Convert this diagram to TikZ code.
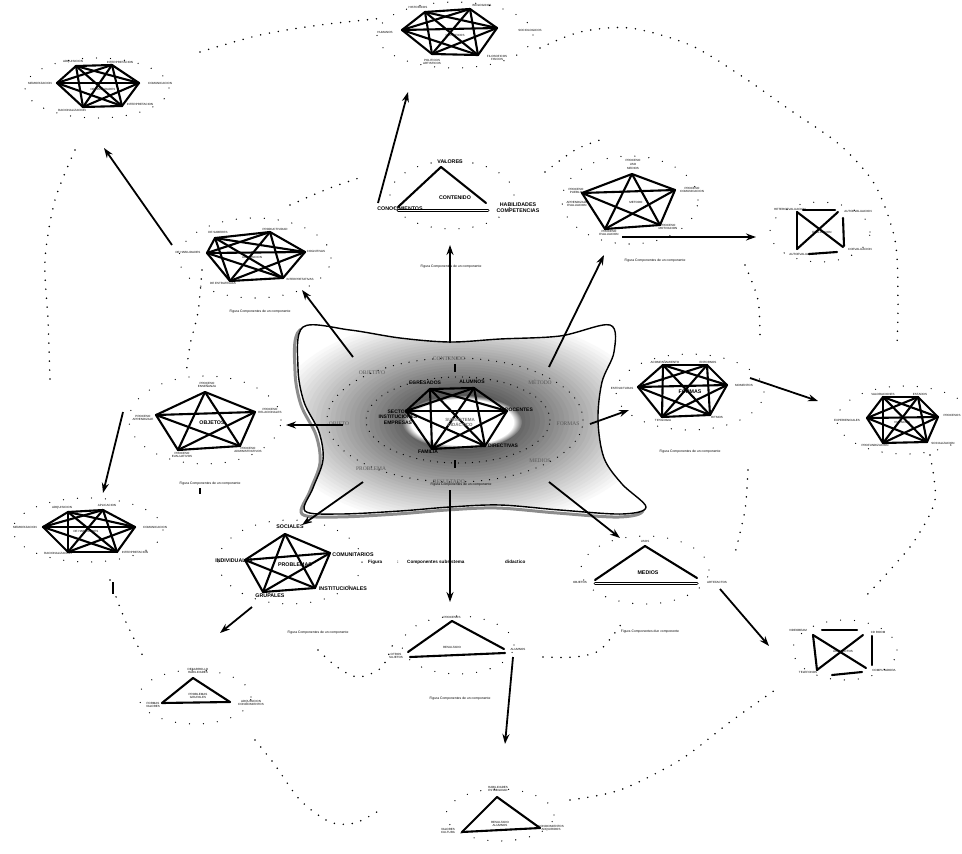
\documentclass[tikz,border=0pt]{standalone}
\usepackage{fontspec}
\setmainfont{Liberation Sans}
\newfontfamily\serifz{Liberation Serif}
\usetikzlibrary{arrows.meta,fadings}
\newcommand{\completegraph}[1]{%
  \foreach \u [count=\i] in {#1}{%
    \foreach \v [count=\j] in {#1}{%
      \ifnum\j>\i \draw[edge] (\u) -- (\v);\fi}}}
\begin{document}
\begin{tikzpicture}[x=1pt,y=-1pt,
  edge/.style={line width=2.1pt,line cap=round},
  arr/.style={line width=1.8pt,-{Stealth[length=10pt,width=7pt]}},
  tl/.style={font=\fontsize{3}{3.5}\selectfont,inner sep=0pt,align=center},
  bl/.style={font=\bfseries\fontsize{5.3}{6}\selectfont,inner sep=0pt,align=center},
  rl/.style={font=\serifz\fontsize{5.5}{6}\selectfont,text=black!65,inner sep=0pt},
  figcap/.style={font=\fontsize{3.4}{4}\selectfont,inner sep=0pt},
  maincap/.style={font=\bfseries\fontsize{4.6}{5}\selectfont,inner sep=0pt,anchor=west},
  dots/.style={line width=1.7pt,dash pattern=on 0pt off 9pt,line cap=round},
  sdots/.style={line width=1.3pt,dash pattern=on 0pt off 14pt,line cap=round}]
\useasboundingbox (0,0) rectangle (962,854);
\def\blob{plot[smooth cycle,tension=0.55] coordinates {(303,327) (350,330) (400,338) (450,342) (500,339) (560,336) (610,325) (614,352) (602,382) (598,420) (604,458) (622,484) (646,507) (622,514) (560,510) (500,505) (450,507) (400,511) (340,514) (305,511) (313,488) (323,460) (319,432) (304,402) (298,368)}}
% ---------- blob ----------
\draw[line width=3pt,black!45,shift={(-3,3)}] \blob;
\begin{scope}
  \clip \blob;
  \fill[white] (290,320) rectangle (660,520);
  \foreach \k in {0,...,39}{
    \pgfmathsetmacro{\ff}{1-\k/40}
    \pgfmathsetmacro{\gg}{88*(1-\ff)}
    \fill[black!\gg] (462,421) ellipse [x radius=\ff*195pt,y radius=\ff*108pt];
  }
  \fill[white,path fading=circle with fuzzy edge 15 percent] (462,422) ellipse [x radius=60pt,y radius=27pt];
\end{scope}
\draw[line width=1.4pt] \blob;
\draw[sdots,dash pattern=on 0pt off 8pt] (455,420) ellipse [x radius=128pt,y radius=62pt];
\draw[sdots,dash pattern=on 0pt off 7pt] (458,420) ellipse [x radius=92pt,y radius=43pt];
% ring labels
\node[rl] (rCont) at (449,359) {CONTENIDO};
\node[rl] (rObjv) at (372,373) {OBJETIVO};
\node[rl] (rMet) at (540,382) {MÉTODO};
\node[rl] (rObj) at (339,424) {OBJETO};
\node[rl] (rForm) at (568,424) {FORMAS};
\node[rl] (rProb) at (371,469) {PROBLEMA};
\node[rl] (rMed) at (540,461) {MEDIOS};
\node[rl] (rRes) at (449,482) {RESULTADO};
\node[figcap] (capBlob) at (461,485) {Figura Componentes de un componente};
\draw[line width=1.2pt] (455,364) -- (455,372);
\draw[line width=1.2pt] (455,460) -- (455,468);
% inner star
\coordinate (cE) at (430,389); \coordinate (cA) at (474,388);
\coordinate (cS) at (406,411); \coordinate (cD) at (507,411);
\coordinate (cDi) at (485,446); \coordinate (cF) at (432,449);
\completegraph{cE,cA,cS,cD,cDi,cF}
\node[bl,font=\bfseries\fontsize{5}{5.5}\selectfont] (lE) at (425,383) {EGRESADOS};
\node[bl,font=\bfseries\fontsize{5}{5.5}\selectfont] (lA) at (472,382) {ALUMNOS};
\node[bl,font=\bfseries\fontsize{5}{5.5}\selectfont] (lS) at (398,417) {SECTOR\\INSTITUCIONES\\EMPRESAS};
\node[bl,font=\bfseries\fontsize{5}{5.5}\selectfont] (lD) at (519,410) {DOCENTES};
\node[bl,font=\bfseries\fontsize{5}{5.5}\selectfont] (lDi) at (503,446) {DIRECTIVAS};
\node[bl,font=\bfseries\fontsize{5}{5.5}\selectfont] (lF) at (428,452) {FAMILIA};
\node[bl,font=\bfseries\fontsize{4.5}{5}\selectfont,text=black!55] (lSub) at (460,422) {SUBSISTEMA\\DIDÁCTICO};
% ---------- main caption ----------
\node[maincap] (mc1) at (368,562) {Figura};
\node[maincap] (mc2) at (397,562) {:};
\node[maincap] (mc3) at (407,562) {Componentes subsistema};
\node[maincap] (mc4) at (505,562) {didactico};
% ---------- cluster A (top) ----------
\coordinate (A1) at (425,12); \coordinate (A2) at (470,9); \coordinate (A3) at (402,30);
\coordinate (A4) at (497,28); \coordinate (A5) at (432,54); \coordinate (A6) at (478,55);
\completegraph{A1,A2,A3,A4,A5,A6}
\node[tl] (tA1) at (418,7) {HISTORICOS};
\node[tl] (tA2) at (482,5) {BIOLOGICOS};
\node[tl] (tA3) at (385,32) {HUMANOS};
\node[tl] (tA4) at (530,30) {SOCIOLOGICOS};
\node[tl] (tA5) at (432,62) {POLITICOS\\ARTISTICOS};
\node[tl] (tA6) at (497,58) {FILOSOFICOS\\FISICOS};
\node[tl] (tA0) at (455,35) {CIENTIFICOS};
% ---------- cluster B (top left) ----------
\coordinate (B1) at (76,66); \coordinate (B2) at (112,65); \coordinate (B3) at (57,83);
\coordinate (B4) at (139,83); \coordinate (B5) at (83,107); \coordinate (B6) at (122,106);
\completegraph{B1,B2,B3,B4,B5,B6}
\node[tl] (tB1) at (73,62) {ADQUISICION};
\node[tl] (tB2) at (120,62) {INTERPRETACION};
\node[tl] (tB3) at (40,83) {MEMORIZACION};
\node[tl] (tB4) at (160,83) {COMUNICACION};
\node[tl] (tB5) at (72,110) {RACIONALIZACION};
\node[tl] (tB6) at (140,104) {INTERPRETACION};
\node[tl] (tB0) at (103,89) {DE HABILIDADES};
% ---------- cluster B' (lower left) ----------
\coordinate (P1) at (68,512); \coordinate (P2) at (103,510); \coordinate (P3) at (43,527);
\coordinate (P4) at (135,527); \coordinate (P5) at (68,552); \coordinate (P6) at (117,552);
\completegraph{P1,P2,P3,P4,P5,P6}
\node[tl] (tP1) at (62,508) {ADQUISICION};
\node[tl] (tP2) at (107,505) {APLICACION};
\node[tl] (tP3) at (25,527) {MEMORIZACION};
\node[tl] (tP4) at (155,527) {COMUNICACION};
\node[tl] (tP5) at (58,553) {RACIONALIZACION};
\node[tl] (tP6) at (135,552) {INTERPRETACION};
\node[tl] (tP0) at (86,531) {DE HABILIDADES};
% ---------- cluster C (contenido triangle) ----------
\coordinate (C1) at (441,167); \coordinate (C2) at (398,207); \coordinate (C3) at (486,203);
\draw[edge] (C1) -- (C2); \draw[edge] (C1) -- (C3);
\draw[edge,line width=1pt,double,double distance=1pt] (398,210) -- (488,210);
\node[bl] (tC1) at (450,162) {VALORES};
\node[bl] (tC2) at (400,209) {CONOCIMIENTOS};
\node[bl] (tC3) at (518,208) {HABILIDADES\\COMPETENCIAS};
\node[bl] (tC0) at (455,198) {CONTENIDO};
\node[figcap] (capC) at (451,267) {Figura Componentes de un componente};
% ---------- cluster D (metodo) ----------
\coordinate (D1) at (632,174); \coordinate (D2) at (582,193); \coordinate (D3) at (675,190);
\coordinate (D4) at (605,229); \coordinate (D5) at (660,225);
\completegraph{D1,D2,D3,D4,D5}
\node[tl] (tD1) at (633,164) {PROCESO\\[1pt]USO\\MEDIOS};
\node[tl] (tD2) at (576,191) {PROCESO\\PUEBLO};
\node[tl] (tD2b) at (577,204) {APRENDIZAJE\\EVALUACION};
\node[tl] (tD3) at (692,190) {PROCESO\\COMUNICACION};
\node[tl] (tD0) at (636,202) {METODO};
\node[tl] (tD4) at (609,233) {PROCESO\\EVALUACION};
\node[tl] (tD5) at (668,227) {PROCESO\\MOTIVACION};
\node[figcap] (capD) at (655,261) {Figura Componentes de un componente};
% ---------- cluster E (evaluacion square) ----------
\coordinate (E1) at (797,212); \coordinate (E2) at (838,212);
\coordinate (E3) at (797,249); \coordinate (E4) at (843,247);
\draw[edge] (803,210) -- (835,210);
\draw[edge] (E1) -- (E3); \draw[edge] (843,218) -- (844,246);
\draw[edge] (E1) -- (E4); \draw[edge] (E2) -- (E3);
\draw[edge] (809,254) -- (837,252);
\node[tl] (tE1) at (790,209) {HETEROEVALUACION};
\node[tl] (tE2) at (858,211) {AUTOEVALUACION};
\node[tl] (tE0) at (822,232) {EVALUACION};
\node[tl] (tE3) at (803,254) {AUTOEVALUACION};
\node[tl] (tE4) at (860,249) {COEVALUACION};
% ---------- cluster F (left) ----------
\coordinate (F1) at (215,238); \coordinate (F2) at (270,232); \coordinate (F3) at (207,253);
\coordinate (F4) at (305,252); \coordinate (F5) at (230,281); \coordinate (F6) at (283,278);
\completegraph{F1,F2,F3,F4,F5,F6}
\node[tl] (tF1) at (218,232) {DE SABERES};
\node[tl] (tF2) at (275,229) {PRODUCTIVIDAD};
\node[tl] (tF3) at (188,252) {DE HABILIDADES};
\node[tl] (tF4) at (316,251) {COGNITIVAS};
\node[tl] (tF0) at (252,258) {ADQUISICION};
\node[tl] (tF5) at (223,283) {DE ESTRATEGIAS};
\node[tl] (tF6) at (300,279) {INTERPRETATIVAS};
\node[figcap] (capF) at (260,312) {Figura Componentes de un componente};
% ---------- cluster G (objetos) ----------
\coordinate (G1) at (205,392); \coordinate (G2) at (156,415); \coordinate (G3) at (255,412);
\coordinate (G4) at (178,450); \coordinate (G5) at (240,446);
\completegraph{G1,G2,G3,G4,G5}
\node[tl] (tG1) at (207,385) {PROCESO\\ENSEÑANZA};
\node[tl] (tG2) at (143,418) {PROCESO\\APRENDIZAJE};
\node[tl] (tG3) at (270,411) {PROCESO\\RELACIONALES};
\node[bl] (tG0) at (212,423) {OBJETOS};
\node[tl] (tG4) at (182,455) {PROCESO\\EVALUATIVOS};
\node[tl] (tG5) at (248,450) {PROCESO\\ADMINISTRATIVOS};
\node[figcap] (capG) at (210,484) {Figura Componentes de un componente};
% ---------- cluster H (formas) ----------
\coordinate (H1) at (663,365); \coordinate (H2) at (707,365); \coordinate (H3) at (638,387);
\coordinate (H4) at (727,385); \coordinate (H5) at (662,417); \coordinate (H6) at (710,415);
\completegraph{H1,H2,H3,H4,H5,H6}
\node[tl] (tH1) at (665,362) {ACOMPAÑAMIENTO};
\node[tl] (tH2) at (708,362) {ENTORNOS};
\node[tl] (tH3) at (622,388) {ESTRUCTURAS};
\node[tl] (tH4) at (744,385) {MOMENTOS};
\node[bl] (tH0) at (690,392) {FORMAS};
\node[tl] (tH5) at (663,420) {TIPOLOGIA};
\node[tl] (tH6) at (717,417) {RITMOS};
\node[figcap] (capH) at (690,452) {Figura Componentes de un componente};
% ---------- cluster I (far right) ----------
\coordinate (I1) at (883,397); \coordinate (I2) at (918,397); \coordinate (I3) at (867,418);
\coordinate (I4) at (938,417); \coordinate (I5) at (883,443); \coordinate (I6) at (927,442);
\completegraph{I1,I2,I3,I4,I5,I6}
\node[tl] (tI1) at (883,394) {VALORACIONES};
\node[tl] (tI2) at (920,394) {ESTADOS};
\node[tl] (tI3) at (847,420) {EXPERIENCIALES};
\node[tl] (tI4) at (952,415) {PROCESOS};
\node[tl] (tI0) at (902,422) {VIVENCIAS};
\node[tl] (tI5) at (875,445) {PROFUNDIZACION};
\node[tl] (tI6) at (943,443) {SOCIALIZACION};
% ---------- cluster J (problemas) ----------
\coordinate (J1) at (285,534); \coordinate (J2) at (245,560); \coordinate (J3) at (330,553);
\coordinate (J4) at (263,592); \coordinate (J5) at (315,588);
\completegraph{J1,J2,J3,J4,J5}
\node[bl] (tJ1) at (290,527) {SOCIALES};
\node[bl] (tJ2) at (234,561) {INDIVIDUALES};
\node[bl] (tJ3) at (353,555) {COMUNITARIOS};
\node[bl] (tJ0) at (295,565) {PROBLEMAS};
\node[bl] (tJ4) at (270,596) {GRUPALES};
\node[bl] (tJ5) at (343,589) {INSTITUCIONALES};
\node[figcap] (capJ) at (318,633) {Figura Componentes de un componente};
% ---------- cluster K (medios) ----------
\coordinate (K1) at (645,546); \coordinate (K2) at (595,580); \coordinate (K3) at (697,578);
\draw[edge] (K1) -- (K2); \draw[edge] (K1) -- (K3);
\draw[edge,line width=1pt,double,double distance=1pt] (595,583) -- (697,583);
\node[tl] (tK1) at (645,541) {USOS};
\node[bl] (tK0) at (648,573) {MEDIOS};
\node[tl] (tK2) at (580,582) {OBJETOS};
\node[tl] (tK3) at (717,582) {ARTEFACTOS};
\node[figcap] (capK) at (650,632) {Figura Componentes dun componente};
% ---------- cluster L (artefactos square) ----------
\coordinate (L1) at (813,635); \coordinate (L2) at (863,635);
\coordinate (L3) at (817,670); \coordinate (L4) at (866,668);
\draw[edge] (822,630) -- (857,630);
\draw[edge] (L1) -- (L3); \draw[edge] (872,636) -- (872,665);
\draw[edge] (L1) -- (L4); \draw[edge] (L2) -- (L3);
\draw[edge] (832,675) -- (862,672);
\node[tl] (tL1) at (798,630) {VIDEOBEAM};
\node[tl] (tL2) at (878,632) {CD ROOM};
\node[tl] (tL0) at (843,651) {ARTEFACTOS};
\node[tl] (tL3) at (808,672) {TELEFONOS};
\node[tl] (tL4) at (884,670) {COMPUTADORA};
% ---------- cluster M (resultado) ----------
\coordinate (M1) at (452,621); \coordinate (M2) at (408,652); \coordinate (M3) at (504,649);
\draw[edge] (M1) -- (M2); \draw[edge] (M1) -- (M3);
\draw[edge] (410,657) -- (505,653);
\node[tl] (tM1) at (452,617) {PROCESOS};
\node[tl] (tM0) at (452,647) {RESULTADO};
\node[tl] (tM2) at (396,656) {OTROS\\SUJETOS};
\node[tl] (tM3) at (518,649) {ALUMNOS};
\node[figcap] (capM) at (460,699) {Figura Componentes de un componente};
% ---------- cluster N (bottom left) ----------
\coordinate (N1) at (193,678); \coordinate (N2) at (162,703); \coordinate (N3) at (230,702);
\draw[edge] (N1) -- (N2); \draw[edge] (N1) -- (N3); \draw[edge] (N2) -- (N3);
\node[tl] (tN1) at (198,671) {DESARROLLO\\HABILIDADES};
\node[tl] (tN0) at (198,696) {PROBLEMAS\\GRUPALES};
\node[tl] (tN2) at (153,705) {FORMAS\\VALORES};
\node[tl] (tN3) at (251,703) {ADQUISICION\\CONOCIMIENTOS};
% ---------- cluster O (bottom) ----------
\coordinate (O1) at (497,797); \coordinate (O2) at (462,832); \coordinate (O3) at (540,828);
\draw[edge] (O1) -- (O2); \draw[edge] (O1) -- (O3); \draw[edge] (O2) -- (O3);
\node[tl] (tO1) at (498,789) {HABILIDADES\\ESTABILIDAD};
\node[tl] (tO0) at (500,824) {RESULTADO\\ALUMNOS};
\node[tl] (tO2) at (448,831) {VALORES\\CULTURA};
\node[tl] (tO3) at (551,828) {CONOCIMIENTOS\\ADQUIRIDOS};
% ---------- arrows ----------
\coordinate (s1) at (450,343); \coordinate (e1) at (450,245); \draw[arr] (s1) -- (e1);
\coordinate (s2) at (353,357); \coordinate (e2) at (302,290); \draw[arr] (s2) -- (e2);
\coordinate (s3) at (549,367); \coordinate (e3) at (604,255); \draw[arr] (s3) -- (e3);
\coordinate (s4) at (343,425); \coordinate (e4) at (286,425); \draw[arr] (s4) -- (e4);
\coordinate (s5) at (590,424); \coordinate (e5) at (629,410); \draw[arr] (s5) -- (e5);
\coordinate (s6) at (363,482); \coordinate (e6) at (302,525); \draw[arr] (s6) -- (e6);
\coordinate (s7) at (549,482); \coordinate (e7) at (620,538); \draw[arr] (s7) -- (e7);
\coordinate (s8) at (450,490); \coordinate (e8) at (450,602); \draw[arr] (s8) -- (e8);
\coordinate (s9) at (378,203); \coordinate (e9) at (408,92); \draw[arr] (s9) -- (e9);
\coordinate (s10) at (172,245); \coordinate (e10) at (104,148); \draw[arr] (s10) -- (e10);
\coordinate (s11) at (622,237); \coordinate (e11) at (756,237); \draw[arr] (s11) -- (e11);
\coordinate (s12) at (123,412); \coordinate (e12) at (103,493); \draw[arr] (s12) -- (e12);
\coordinate (s13) at (750,378); \coordinate (e13) at (818,401); \draw[arr] (s13) -- (e13);
\coordinate (s14) at (252,607); \coordinate (e14) at (220,633); \draw[arr] (s14) -- (e14);
\coordinate (s15) at (720,589); \coordinate (e15) at (769,646); \draw[arr] (s15) -- (e15);
\coordinate (s16) at (513,657); \coordinate (e16) at (505,744); \draw[arr] (s16) -- (e16);
% ---------- dotted decoration ----------
\draw[sdots] (455,35) ellipse [x radius=78pt,y radius=33pt];
\draw[sdots] (97,88) ellipse [x radius=72pt,y radius=30pt];
\draw[sdots] (88,530) ellipse [x radius=75pt,y radius=32pt];
\draw[sdots] (452,195) ellipse [x radius=62pt,y radius=34pt];
\draw[sdots] (630,200) ellipse [x radius=68pt,y radius=44pt];
\draw[sdots] (820,232) ellipse [x radius=50pt,y radius=30pt];
\draw[sdots] (255,258) ellipse [x radius=76pt,y radius=40pt];
\draw[sdots] (205,420) ellipse [x radius=76pt,y radius=44pt];
\draw[sdots] (690,392) ellipse [x radius=74pt,y radius=38pt];
\draw[sdots] (905,420) ellipse [x radius=68pt,y radius=34pt];
\draw[sdots] (290,562) ellipse [x radius=72pt,y radius=42pt];
\draw[sdots] (645,570) ellipse [x radius=64pt,y radius=34pt];
\draw[sdots] (845,650) ellipse [x radius=52pt,y radius=30pt];
\draw[sdots] (458,645) ellipse [x radius=56pt,y radius=29pt];
\draw[sdots] (195,697) ellipse [x radius=56pt,y radius=27pt];
\draw[sdots] (500,815) ellipse [x radius=54pt,y radius=26pt];
% outer loop
\draw[dots] plot[smooth] coordinates {(200,52) (260,35) (320,25) (385,18)};
\draw[dots] plot[smooth] coordinates {(540,48) (580,32) (630,28) (690,45) (740,75) (790,110) (840,145) (875,185) (895,240) (898,300) (897,345)};
\draw[dots] plot[smooth] coordinates {(930,455) (935,500) (915,540) (890,570) (865,597)};
\draw[dots] plot[smooth] coordinates {(75,150) (55,200) (45,260) (48,320) (50,380)};
\draw[dots] plot[smooth] coordinates {(110,580) (125,620) (145,660)};
\draw[dots] plot[smooth] coordinates {(255,740) (275,765) (300,800) (330,822) (355,823) (380,810)};
\draw[dots] plot[smooth] coordinates {(570,800) (620,790) (680,760) (730,722) (775,690)};
% middle loop
\draw[dots] plot[smooth] coordinates {(290,205) (330,188) (365,176)};
\draw[dots] plot[smooth] coordinates {(202,270) (198,312) (190,345) (186,375)};
\draw[dots] plot[smooth] coordinates {(318,650) (337,667) (358,677) (382,667) (395,638)};
\draw[dots] plot[smooth] coordinates {(543,657) (575,657) (600,650) (622,623)};
\draw[dots] plot[smooth] coordinates {(745,265) (758,300) (760,340)};
\draw[dots] plot[smooth] coordinates {(748,470) (745,510) (735,553)};
\draw[dots] plot[smooth] coordinates {(545,172) (575,150) (600,140)};
% small marks
\draw[line width=1.3pt] (113,582) -- (113,594);
\draw[line width=1.3pt] (200,488) -- (200,494);
\end{tikzpicture}
\end{document}
